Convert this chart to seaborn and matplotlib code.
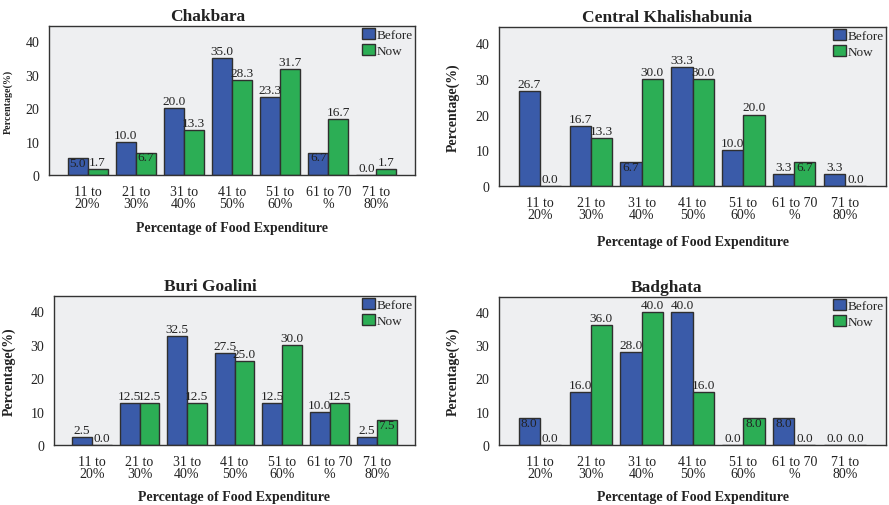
import matplotlib
matplotlib.use("Agg")
import matplotlib.pyplot as plt
import seaborn as sns
import pandas as pd

categories = ["11 to\n20%", "21 to\n30%", "31 to\n40%", "41 to\n50%",
              "51 to\n60%", "61 to 70\n%", "71 to\n80%"]
series_names = ["Before", "Now"]

chakbara_before = [5.0, 10.0, 20.0, 35.0, 23.3, 6.7, 0.0]
chakbara_now = [1.7, 6.7, 13.3, 28.3, 31.7, 16.7, 1.7]

khalishabunia_before = [26.7, 16.7, 6.7, 33.3, 10.0, 3.3, 3.3]
khalishabunia_now = [0.0, 13.3, 30.0, 30.0, 20.0, 6.7, 0.0]

buri_before = [2.5, 12.5, 32.5, 27.5, 12.5, 10.0, 2.5]
buri_now = [0.0, 12.5, 12.5, 25.0, 30.0, 12.5, 7.5]

badghata_before = [8.0, 16.0, 28.0, 40.0, 0.0, 8.0, 0.0]
badghata_now = [0.0, 36.0, 40.0, 16.0, 8.0, 0.0, 0.0]

titles = ["Chakbara", "Central Khalishabunia", "Buri Goalini", "Badghata"]
panel_data = [
    (chakbara_before, chakbara_now),
    (khalishabunia_before, khalishabunia_now),
    (buri_before, buri_now),
    (badghata_before, badghata_now),
]

BLUE = "#3A5BA9"
GREEN = "#2CAE55"
EDGE = "#2f2f2f"
FACE = "#EEEFF1"

sns.set_theme(style="white")
plt.rcParams["font.family"] = ["Liberation Serif", "DejaVu Serif"]
plt.rcParams["axes.linewidth"] = 1.0

W, H = 889, 506
fig = plt.figure(figsize=(W / 100, H / 100), dpi=100)
fig.patch.set_facecolor("white")

# axes boxes in pixels: left, top, right, bottom
boxes = [
    (49, 27, 415, 176),
    (499, 28, 886, 187),
    (54, 297, 415, 446),
    (499, 298, 886, 446),
]
ylabel_x = [13, 460, 16, 460]
ylabel_size = [7.2, 10, 10, 10]
xlabel_gap = [46, 49, 45, 45]

for i, (title, (before, now)) in enumerate(zip(titles, panel_data)):
    l, t, r, b = boxes[i]
    ax = fig.add_axes([l / W, 1 - b / H, (r - l) / W, (b - t) / H])
    ax.set_facecolor(FACE)
    df = pd.DataFrame({
        "cat": categories * 2,
        "val": list(before) + list(now),
        "series": [series_names[0]] * len(categories) + [series_names[1]] * len(categories),
    })
    sns.barplot(data=df, x="cat", y="val", hue="series", order=categories,
                hue_order=series_names, palette=[BLUE, GREEN], width=0.83,
                gap=0, edgecolor=EDGE, linewidth=1.0, ax=ax, saturation=1)

    for cont, vals in zip(ax.containers, (before, now)):
        for patch, v in zip(cont.patches, vals):
            cx = patch.get_x() + patch.get_width() / 2
            if 4 < v < 9:
                ax.text(cx, v + 0.4, f"{v:.1f}", ha="center", va="top",
                        fontsize=9.5, color="#222222")
            else:
                ax.text(cx, v + 0.3, f"{v:.1f}", ha="center", va="bottom",
                        fontsize=9.5, color="#222222")

    ax.set_xlim(-0.8, 6.8)
    ax.set_ylim(0, 44.5)
    ax.set_yticks([0, 10, 20, 30, 40])
    ax.tick_params(axis="both", which="both", direction="out", length=5,
                   width=1, colors="#222222", labelsize=10, pad=2)
    for lab in ax.get_xticklabels():
        lab.set_linespacing(0.95)
    for s in ax.spines.values():
        s.set_visible(True)
        s.set_color("#333333")
        s.set_linewidth(1.0)

    ah = b - t
    aw = r - l
    ax.set_xlabel("Percentage of Food Expenditure", fontsize=10,
                  fontweight="bold", color="#222222")
    ax.xaxis.set_label_coords(0.5, -xlabel_gap[i] / ah)
    ax.set_ylabel("Percentage(%)", fontsize=ylabel_size[i],
                  fontweight="bold", color="#222222")
    ax.yaxis.set_label_coords((ylabel_x[i] - l) / aw, 0.5)

    ax.text(0.433, 1 + 10 / ah, title, transform=ax.transAxes,
            ha="center", va="center", fontsize=12.5, fontweight="bold",
            color="#222222")

    leg = ax.legend(loc="upper right", frameon=False, fontsize=9.5,
                    borderaxespad=0.15, borderpad=0.0, handlelength=0.95,
                    handleheight=0.95, handletextpad=0.15, labelspacing=0.2)
    leg.set_title(None)
    for h in leg.legend_handles:
        h.set_edgecolor(EDGE)
        h.set_linewidth(1.0)

fig.savefig("out.png", dpi=100, facecolor="white")
